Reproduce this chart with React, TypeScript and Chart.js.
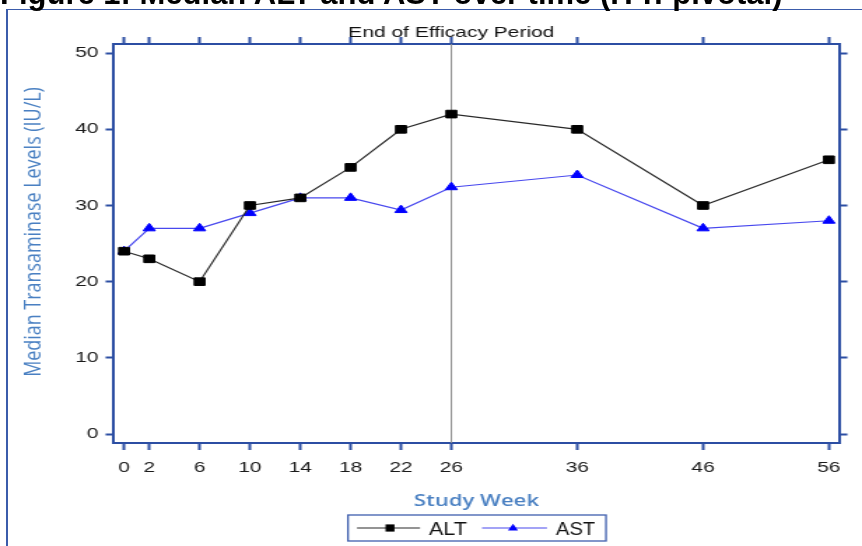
import React, { useEffect, useRef } from 'react';
import { Chart, registerables } from 'chart.js';

Chart.register(...registerables);

// ---- data ----
const weeks = [0, 2, 6, 10, 14, 18, 22, 26, 36, 46, 56];
const altValues = [24, 23, 20, 30, 31, 35, 40, 42, 40, 30, 36];
const astValues = [24, 27, 27, 29, 31, 31, 29.4, 32.4, 34, 27, 28];
const yTickValues = [0, 10, 20, 30, 40, 50];
const xTickValues = [0, 2, 6, 10, 14, 18, 22, 26, 36, 46, 56];
const seriesLabels = ['ALT', 'AST'];
const figureTitle = 'Figure 1: Median ALT and AST over time (ITT: pivotal)';
const yAxisTitle = 'Median Transaminase Levels (IU/L)';
const xAxisTitle = 'Study Week';
const refLineWeek = 26;
const refLineLabel = 'End of Efficacy Period';

// ---- layout (the source figure is a horizontally stretched bitmap) ----
const VIEW_W = 862;
const VIEW_H = 546;
const INNER_W = 616;
const S = VIEW_W / INNER_W;
const sx = (px: number) => px / S;

const AXIS_BLUE = '#2c4ea3';
const TITLE_BLUE = '#4a80c2';
const ALT_LINE = '#2a2a2a';
const ALT_FILL = '#000000';
const AST_LINE = '#4848ee';
const AST_FILL = '#0000ff';
const ARIAL = '"Liberation Sans", Arial, sans-serif';
const OPEN = '"Open Sans", "Noto Sans", sans-serif';

function fitText(ctx: CanvasRenderingContext2D, text: string, x: number, y: number, font: string, color: string, targetScreenW: number, align: CanvasTextAlign) {
  ctx.save();
  ctx.font = font;
  const w = ctx.measureText(text).width;
  const c = targetScreenW / (w * S);
  ctx.translate(x, y);
  ctx.scale(c, 1);
  ctx.fillStyle = color;
  ctx.textAlign = align;
  ctx.textBaseline = 'alphabetic';
  ctx.fillText(text, 0, 0);
  ctx.restore();
  return c;
}

const overlayPlugin = {
  id: 'overlay',
  beforeDatasetsDraw(chart: any) {
    const { ctx, chartArea, scales } = chart;
    const xr = scales.x.getPixelForValue(refLineWeek);
    ctx.save();
    ctx.strokeStyle = '#8e8e8e';
    ctx.lineWidth = 1;
    ctx.beginPath();
    ctx.moveTo(xr, chartArea.top);
    ctx.lineTo(xr, chartArea.bottom);
    ctx.stroke();
    ctx.restore();
  },
  afterDraw(chart: any) {
    const { ctx, chartArea, scales } = chart;
    const xr = scales.x.getPixelForValue(refLineWeek);

    // reference line label
    ctx.save();
    ctx.font = `15px ${ARIAL}`;
    ctx.fillStyle = '#111';
    ctx.textAlign = 'center';
    ctx.textBaseline = 'alphabetic';
    ctx.fillText(refLineLabel, xr, 37);
    ctx.restore();

    // x axis title
    const cx = (chartArea.left + chartArea.right) / 2;
    fitText(ctx, xAxisTitle, cx, 506, `600 17px ${OPEN}`, TITLE_BLUE, 125, 'center');

    // y axis title (rotated)
    ctx.save();
    ctx.font = `500 16px ${OPEN}`;
    const w16 = ctx.measureText(yAxisTitle).width;
    const fs = 16 * 290 / w16;
    ctx.font = `500 ${fs}px ${OPEN}`;
    ctx.translate(sx(35), 232);
    ctx.scale(1.2 / S, 1);
    ctx.rotate(-Math.PI / 2);
    ctx.fillStyle = TITLE_BLUE;
    ctx.textAlign = 'center';
    ctx.textBaseline = 'middle';
    ctx.fillText(yAxisTitle, 0, 0);
    ctx.restore();

    // legend
    const lg = { left: sx(348), right: sx(606), top: 515, bottom: 541 };
    const ly = (lg.top + lg.bottom) / 2;
    ctx.save();
    ctx.strokeStyle = '#3f5fae';
    ctx.lineWidth = 1.3;
    ctx.strokeRect(lg.left, lg.top, lg.right - lg.left, lg.bottom - lg.top);

    // ALT sample
    ctx.strokeStyle = ALT_LINE;
    ctx.lineWidth = 1.1;
    ctx.beginPath();
    ctx.moveTo(sx(357), ly);
    ctx.lineTo(sx(420), ly);
    ctx.stroke();
    ctx.fillStyle = ALT_FILL;
    const ax = sx(390);
    ctx.fillRect(ax - 3.2, ly - 3.6, 6.4, 7.2);

    // AST sample
    ctx.strokeStyle = AST_LINE;
    ctx.beginPath();
    ctx.moveTo(sx(482), ly);
    ctx.lineTo(sx(547), ly);
    ctx.stroke();
    const tx = sx(513);
    ctx.fillStyle = AST_FILL;
    ctx.beginPath();
    ctx.moveTo(tx, ly - 4.2);
    ctx.lineTo(tx + 3.6, ly + 2.6);
    ctx.lineTo(tx - 3.6, ly + 2.6);
    ctx.closePath();
    ctx.fill();
    ctx.restore();

    fitText(ctx, seriesLabels[0], sx(429), 535, `18px ${ARIAL}`, '#111', 38, 'left');
    fitText(ctx, seriesLabels[1], sx(556), 535, `18px ${ARIAL}`, '#111', 39, 'left');
  },
};

const tickFont = { family: ARIAL, size: 15 };

export default function App() {
  const canvasRef = useRef<HTMLCanvasElement | null>(null);

  useEffect(() => {
    const canvas = canvasRef.current;
    if (!canvas) return;
    const setX = (s: any) => { s.ticks = xTickValues.map((v) => ({ value: v })); };
    const setY = (s: any) => { s.ticks = yTickValues.map((v) => ({ value: v })); };
    const gridX = { display: true, drawOnChartArea: false, drawTicks: true, tickLength: 7, tickWidth: 2, tickColor: AXIS_BLUE };
    const gridY = { display: true, drawOnChartArea: false, drawTicks: true, tickLength: 6, tickWidth: 2, tickColor: AXIS_BLUE };
    const border = { display: true, color: AXIS_BLUE, width: 2 };

    const chart = new Chart(canvas, {
      type: 'line',
      data: {
        datasets: [
          {
            label: seriesLabels[0],
            data: weeks.map((w, i) => ({ x: w, y: altValues[i] })),
            borderColor: ALT_LINE,
            backgroundColor: ALT_FILL,
            borderWidth: 1.2,
            pointStyle: 'rect',
            pointRadius: 5.4,
            pointBackgroundColor: ALT_FILL,
            pointBorderColor: ALT_FILL,
            pointBorderWidth: 1,
            tension: 0,
            xAxisID: 'x',
            yAxisID: 'y',
          },
          {
            label: seriesLabels[1],
            data: weeks.map((w, i) => ({ x: w, y: astValues[i] })),
            borderColor: AST_LINE,
            backgroundColor: AST_FILL,
            borderWidth: 1.2,
            pointStyle: 'triangle',
            pointRadius: 5,
            pointBackgroundColor: AST_FILL,
            pointBorderColor: AST_FILL,
            pointBorderWidth: 1,
            tension: 0,
            xAxisID: 'x',
            yAxisID: 'y',
          },
        ],
      },
      options: {
        responsive: false,
        maintainAspectRatio: false,
        devicePixelRatio: 1,
        animation: false,
        layout: { padding: 0 },
        plugins: {
          legend: { display: false },
          title: { display: false },
          tooltip: { enabled: false },
        },
        scales: {
          x: {
            type: 'linear',
            position: 'bottom',
            min: -0.8,
            max: 56.8,
            afterBuildTicks: setX,
            afterFit: (s: any) => { s.height = VIEW_H - 443; },
            ticks: { font: tickFont, color: '#1a1a1a', padding: 9, maxRotation: 0, autoSkip: false },
            grid: gridX,
            border,
          },
          x2: {
            type: 'linear',
            position: 'top',
            min: -0.8,
            max: 56.8,
            afterBuildTicks: setX,
            afterFit: (s: any) => { s.height = 44; },
            ticks: { display: false },
            grid: gridX,
            border,
          },
          y: {
            type: 'linear',
            position: 'left',
            min: -1.18,
            max: 51.2,
            afterBuildTicks: setY,
            afterFit: (s: any) => { s.width = sx(114); },
            ticks: { font: tickFont, color: '#1a1a1a', padding: 5 },
            grid: gridY,
            border,
          },
          y2: {
            type: 'linear',
            position: 'right',
            min: -1.18,
            max: 51.2,
            afterBuildTicks: setY,
            afterFit: (s: any) => { s.width = INNER_W - sx(839); },
            ticks: { display: false },
            grid: gridY,
            border,
          },
        },
      } as any,
      plugins: [overlayPlugin],
    });
    return () => chart.destroy();
  }, []);

  return (
    <div style={{ position: 'fixed', left: 0, top: 0, width: VIEW_W, height: VIEW_H, overflow: 'hidden', background: '#fff' }}>
      <div
        style={{
          position: 'absolute',
          left: 6,
          top: 9,
          width: VIEW_W + 20,
          height: VIEW_H + 20,
          borderTop: '1.5px solid #3b5cab',
          borderLeft: '2px solid #3b5cab',
        }}
      />
      <canvas
        ref={canvasRef}
        width={INNER_W}
        height={VIEW_H}
        style={{ position: 'absolute', left: 0, top: 0, width: VIEW_W, height: VIEW_H, display: 'block' }}
      />
      <div
        style={{
          position: 'absolute',
          left: 0,
          top: -21,
          font: `bold 31px ${ARIAL}`,
          lineHeight: '30px',
          whiteSpace: 'nowrap',
          color: '#000',
        }}
      >
        {figureTitle}
      </div>
    </div>
  );
}
